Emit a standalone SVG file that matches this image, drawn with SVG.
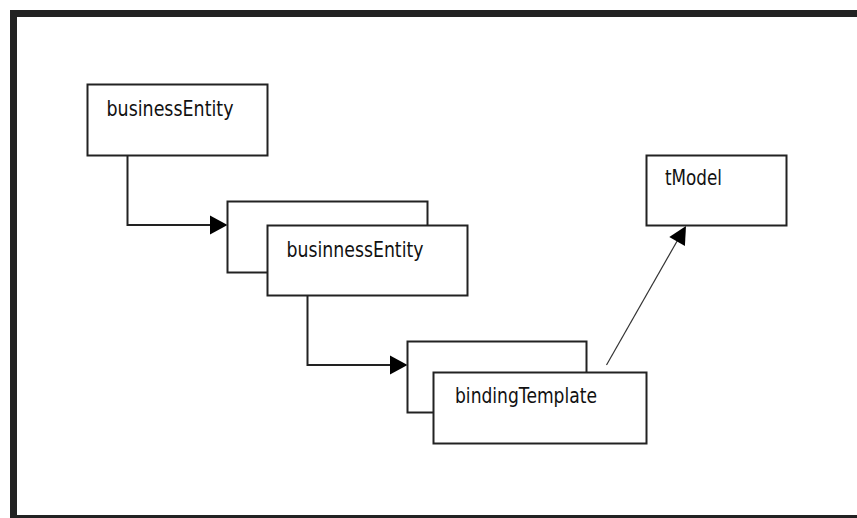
<svg xmlns="http://www.w3.org/2000/svg" width="857" height="518" viewBox="0 0 857 518">
  <style>
    .box { fill: #ffffff; stroke: #222222; stroke-width: 2; }
    .lbl { font-family: "DejaVu Sans", "Liberation Sans", sans-serif; font-size: 21px; fill: #111111; }
    .wire { fill: none; stroke: #222222; stroke-width: 2; }
    .thin { fill: none; stroke: #333333; stroke-width: 1.2; }
    .head { fill: #000000; stroke: none; }
  </style>
  <rect width="857" height="518" fill="#ffffff"/>
  <!-- outer frame (right edge runs off the canvas) -->
  <rect x="13.5" y="13.5" width="900" height="505" fill="none" stroke="#222222" stroke-width="7"/>

  <g id="connectors">
    <polyline class="wire" points="127.5,155.5 127.5,225 211,225"/>
    <polygon class="head" points="227.5,225 210,215.5 210,234.5"/>
    <polyline class="wire" points="307.5,295.5 307.5,365 391,365"/>
    <polygon class="head" points="407.5,365 390,355.5 390,374.5"/>
    <line class="thin" x1="606.5" y1="365" x2="680" y2="236"/>
    <polygon class="head" points="686,226 684.9,246.1 669.3,237.1"/>
  </g>

  <g id="businessEntity">
    <rect class="box" x="87.5" y="84.5" width="180" height="71"/>
    <text class="lbl" x="106.5" y="116" textLength="127" lengthAdjust="spacingAndGlyphs">businessEntity</text>
  </g>

  <g id="businnessEntity">
    <rect class="box" x="227.5" y="201.5" width="200" height="71"/>
    <rect class="box" x="267.5" y="225.5" width="200" height="70"/>
    <text class="lbl" x="286.5" y="256.5" textLength="137" lengthAdjust="spacingAndGlyphs">businnessEntity</text>
  </g>

  <g id="bindingTemplate">
    <rect class="box" x="407.5" y="341.5" width="179" height="71"/>
    <rect class="box" x="433.5" y="372.5" width="213" height="71"/>
    <text class="lbl" x="455" y="402.5" textLength="142" lengthAdjust="spacingAndGlyphs">bindingTemplate</text>
  </g>

  <g id="tModel">
    <rect class="box" x="646.5" y="155.5" width="140" height="70"/>
    <text class="lbl" x="665" y="185" textLength="57" lengthAdjust="spacingAndGlyphs">tModel</text>
  </g>
</svg>
